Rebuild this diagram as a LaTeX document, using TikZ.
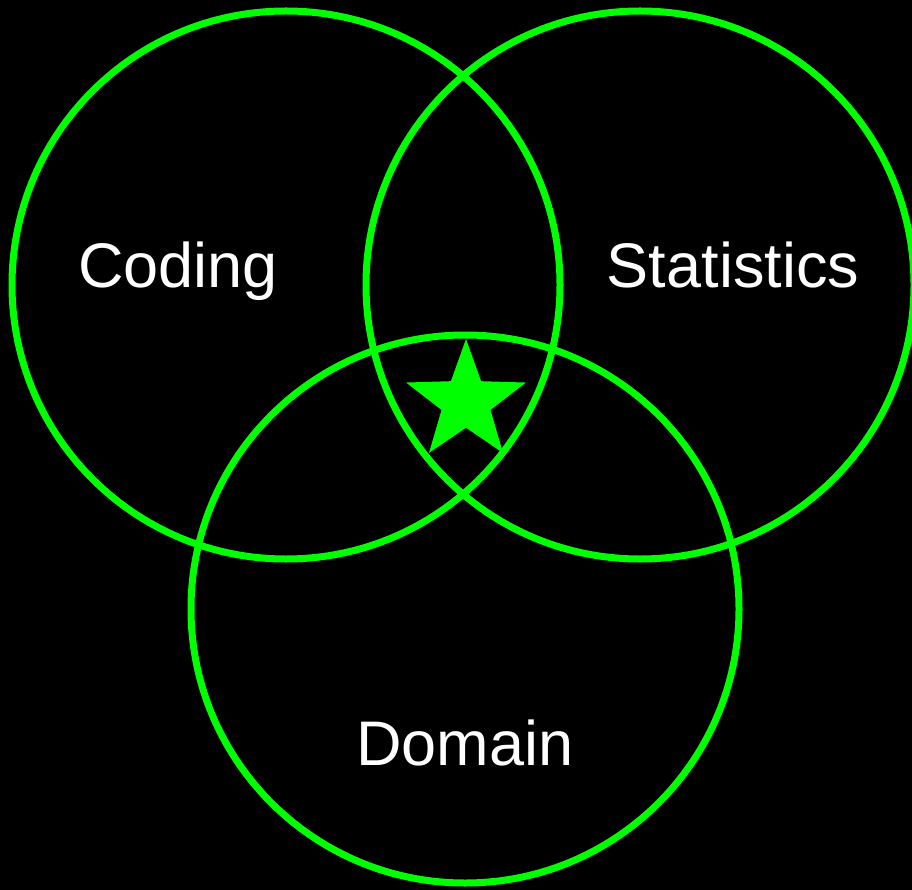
\documentclass[tikz,border=0pt]{standalone}
\usepackage{fontspec}
\setmainfont{Liberation Sans}
\usetikzlibrary{shapes.geometric}
\definecolor{VennGreen}{HTML}{00FF00}

\begin{document}
\begin{tikzpicture}[x=1pt,y=1pt]
\tikzstyle{set}=[circle,draw=VennGreen,line width=7pt,minimum size=548pt,inner sep=0pt]
\tikzstyle{label}=[anchor=base,text=white,font=\fontsize{63}{75}\selectfont]
\tikzstyle{core}=[star,star points=5,star point ratio=2.45,fill=VennGreen,minimum size=126pt,inner sep=0pt]
\fill[black] (0,0) rectangle (912,-890);
\useasboundingbox (0,0) rectangle (912,-890);
\node[set] (coding) at (286,-285) {};
\node[set] (stats) at (640,-285) {};
\node[set] (domain) at (465,-609) {};
\node[core] (overlap) at (466,-402) {};
\node[label] (codingtxt) at (178,-288) {Coding};
\node[label] (statstxt) at (733,-288) {Statistics};
\node[label] (domaintxt) at (465,-765) {Domain};
\end{tikzpicture}
\end{document}
